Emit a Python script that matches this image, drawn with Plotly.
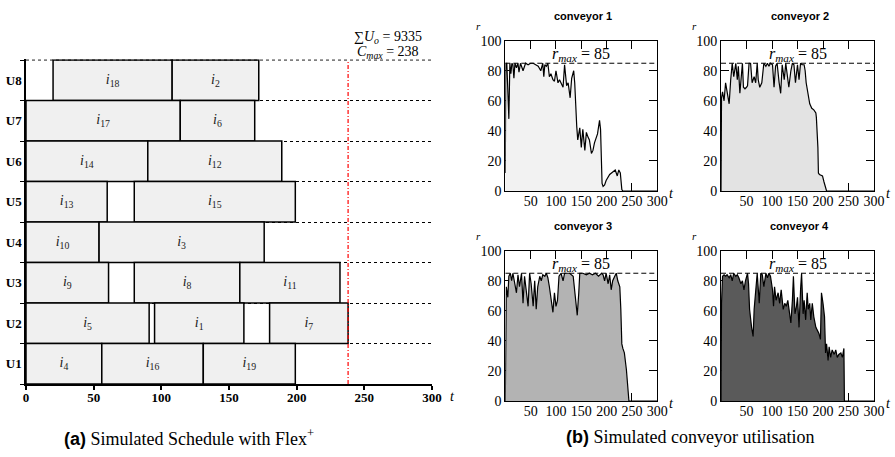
import plotly.graph_objects as go

W, H = 895, 457

# ---------------- data: schedule (a) ----------------
MACHINES = ["U1", "U2", "U3", "U4", "U5", "U6", "U7", "U8"]
JOB_IDS = [18, 2, 17, 6, 14, 12, 13, 15, 10, 3, 9, 8, 11, 5, 1, 7, 4, 16, 19]
JOB_MACH = [8, 8, 7, 7, 6, 6, 5, 5, 4, 4, 3, 3, 3, 2, 2, 2, 1, 1, 1]
JOB_START = [20, 108, 0, 114, 0, 90, 0, 80, 0, 54, 0, 80, 158, 0, 95, 180, 0, 56, 131]
JOB_END = [108, 172, 114, 169, 90, 189, 60, 199, 54, 176, 61, 158, 232, 91, 161, 238, 56, 131, 199]
C_MAX = 238
SUM_U = 9335
GANTT_TICKS = [0, 50, 100, 150, 200, 250, 300]

# ---------------- data: conveyor utilisation (b) ----------------
R_MAX = 85
CONV_NAMES = ["conveyor 1", "conveyor 2", "conveyor 3", "conveyor 4"]
CONV_XTICKS = [50, 100, 150, 200, 250, 300]
CONV_YTICKS = [0, 20, 40, 60, 80, 100]

T1 = [0, 1, 3, 5, 7, 9, 11, 13, 15, 17, 19, 22, 25, 27, 30, 35, 40, 45, 50, 55,
      60, 65, 70, 74, 76, 78, 81, 84, 87, 90, 94, 97, 100, 104, 107, 110, 114, 117, 121, 124,
      128, 131, 135, 137, 139, 141, 143, 147, 150, 153, 157, 160, 163, 166, 170, 173, 176, 182, 186, 188,
      191, 193, 196, 199, 206, 212, 217, 221, 224, 227, 230, 232, 300]
R1 = [12, 85, 85, 60, 48, 85, 78, 85, 84, 75, 85, 82, 85, 79, 85, 80, 85, 84, 85, 85,
      84, 83, 80, 85, 76, 84, 83, 85, 76, 78, 74, 73, 80, 72, 74, 72, 69, 84, 70, 72,
      62, 75, 80, 72, 55, 43, 34, 42, 29, 41, 27, 39, 36, 34, 25, 27, 32, 38, 47, 41,
      5, 3, 4, 7, 11, 13, 14, 10, 14, 12, 1, 0, 0]

T2 = [0, 1, 3, 6, 9, 12, 16, 19, 22, 25, 29, 32, 34, 37, 39, 42, 44, 47, 50, 52,
      55, 58, 61, 65, 68, 71, 73, 76, 80, 84, 88, 91, 94, 97, 101, 104, 107, 110, 114, 117,
      120, 124, 127, 130, 133, 137, 140, 143, 146, 150, 153, 156, 159, 163, 165, 167, 171, 174, 178, 182,
      186, 187, 190, 191, 193, 199, 202, 205, 207, 300]
R2 = [0, 62, 66, 60, 72, 65, 58, 74, 85, 76, 85, 74, 83, 65, 72, 85, 69, 68, 69, 70,
      85, 85, 72, 76, 72, 85, 74, 69, 72, 85, 83, 85, 83, 85, 84, 69, 83, 85, 72, 65,
      84, 74, 85, 76, 69, 80, 85, 84, 72, 84, 74, 85, 84, 84, 80, 72, 63, 58, 55, 54,
      52, 49, 29, 12, 11, 10, 6, 1, 0, 0]

T3 = [0, 1, 2, 5, 7, 10, 12.5, 15, 18, 22, 25, 28, 32, 35, 38, 41, 45, 48, 51, 55,
      58, 61, 64, 68, 71, 74, 78, 81, 84, 87, 91, 94, 97, 100, 103, 106, 110, 114, 117, 120,
      127, 134, 137, 140, 142, 145, 147, 153, 160, 166, 172, 178, 184, 190, 193, 196, 199, 203, 206, 209,
      212, 216, 219, 222, 226, 228, 230, 232, 235, 239, 242, 244, 300]
R3 = [0, 60, 76, 69, 83, 85, 80, 85, 78, 72, 84, 76, 85, 65, 83, 74, 63, 85, 78, 63,
      80, 61, 76, 83, 80, 84, 83, 85, 82, 76, 65, 59, 72, 63, 67, 83, 85, 80, 85, 85,
      85, 83, 72, 61, 57, 72, 85, 85, 84, 85, 84, 85, 83, 85, 84, 80, 85, 78, 84, 74,
      80, 83, 85, 80, 76, 61, 38, 35, 32, 21, 7, 0, 0]

T4 = [0, 1, 3, 6, 9, 12, 16, 19, 22, 25, 29, 32, 35, 39, 42, 45, 48, 52, 54, 56,
      60, 63, 65, 68, 71, 75, 78, 81, 84, 88, 91, 94, 97, 101, 103, 105, 108, 112, 115, 118,
      122, 125, 128, 131, 135, 137, 140, 142, 145, 148, 150, 153, 156, 158, 161, 163, 166, 169, 171, 174,
      176, 179, 182, 186, 189, 192, 195, 197, 200, 203, 205, 207, 210, 212, 215, 218, 222, 225, 228, 231,
      235, 238, 241, 242, 300]
R4 = [0, 65, 83, 84, 83, 84, 82, 84, 80, 85, 83, 84, 82, 78, 80, 74, 80, 85, 78, 61,
      49, 43, 61, 72, 85, 65, 85, 84, 76, 85, 82, 85, 83, 74, 63, 76, 67, 72, 65, 74,
      61, 65, 63, 67, 57, 52, 67, 83, 58, 63, 69, 49, 74, 85, 58, 67, 54, 72, 61, 65,
      54, 65, 56, 49, 47, 45, 41, 72, 65, 56, 32, 38, 27, 36, 29, 34, 31, 34, 29, 31,
      32, 29, 35, 0, 0]

CONV_T = [T1, T2, T3, T4]
CONV_R = [R1, R2, R3, R4]
CONV_FILL = ["#f2f2f2", "#e3e3e3", "#b3b3b3", "#5a5a5a"]

# ---------------- styling / layout helpers ----------------
SERIF = "Liberation Serif"
SANS = "Liberation Sans"


def px_x(px):
    return px / W


def px_y(py):
    return 1 - py / H


def note(xpx, ypx, text, size, family=SERIF, xanchor="center"):
    return dict(x=px_x(xpx), y=px_y(ypx), xref="paper", yref="paper", text=text,
                showarrow=False, xanchor=xanchor, yanchor="middle",
                font=dict(family=family, size=size, color="black"))


fig = go.Figure()

# ---------- (a) Gantt ----------
Y_TOP_PAD = 0.02
G_L, G_R, G_T, G_B = 26, 432, 60 - 40.5 * Y_TOP_PAD, 384
N_ROWS = len(MACHINES)

# top boundary of the last machine row (dashed, like the other row separators)
fig.add_trace(go.Scatter(
    x=[GANTT_TICKS[0], GANTT_TICKS[-1]], y=[N_ROWS, N_ROWS], mode="lines",
    line=dict(color="black", width=1, dash="3px,3px"),
    xaxis="x", yaxis="y", showlegend=False, hoverinfo="skip"))

for jid, m, s, e in zip(JOB_IDS, JOB_MACH, JOB_START, JOB_END):
    fig.add_trace(go.Bar(
        orientation="h", y=[m - 0.5], x=[e - s], base=[s], width=1,
        marker=dict(color="#f0f0f0", line=dict(color="black", width=1.5)),
        xaxis="x", yaxis="y", showlegend=False, hoverinfo="skip"))

fig.add_trace(go.Scatter(
    x=[(s + e) / 2 for s, e in zip(JOB_START, JOB_END)],
    y=[m - 0.5 for m in JOB_MACH],
    text=[f"<i>i</i><sub>{j}</sub>" for j in JOB_IDS],
    mode="text", textfont=dict(family=SERIF, size=14, color="#222"),
    xaxis="x", yaxis="y", showlegend=False, hoverinfo="skip"))

fig.add_trace(go.Scatter(
    x=[C_MAX, C_MAX], y=[0, N_ROWS], mode="lines",
    line=dict(color="red", width=1.2, dash="4px,2px,1px,2px"),
    xaxis="x", yaxis="y", showlegend=False, hoverinfo="skip"))

layout = dict(
    template="none",
    width=W, height=H, margin=dict(l=0, r=0, t=0, b=0, pad=0), autosize=False,
    paper_bgcolor="white", plot_bgcolor="white", showlegend=False, barmode="overlay",
    xaxis=dict(domain=[px_x(G_L), px_x(G_R)], range=[0, 300], tickvals=GANTT_TICKS,
               ticks="outside", ticklen=4, tickwidth=1.5, tickcolor="black",
               showline=True, linecolor="black", linewidth=2, showgrid=False, zeroline=False,
               tickfont=dict(family=SERIF, size=13, color="black", weight="bold"),
               ticklabelstandoff=-4,
               tickangle=0, anchor="y", fixedrange=True, automargin=False),
    yaxis=dict(domain=[px_y(G_B), px_y(G_T)], range=[0, N_ROWS + Y_TOP_PAD],
               tickvals=[i + 0.5 for i in range(N_ROWS)],
               ticktext=[f"<b>{m}</b>" for m in MACHINES], ticks="",
               tickfont=dict(family=SERIF, size=13, color="black"),
               showline=True, linecolor="black", linewidth=1.5, showgrid=False, zeroline=False,
               minor=dict(tickmode="array", tickvals=list(range(N_ROWS + 1)),
                          ticks="outside", ticklen=4, tickcolor="black", tickwidth=1,
                          showgrid=True, gridcolor="black", gridwidth=1, griddash="3px,3px"),
               anchor="x", fixedrange=True, automargin=False),
)

NARROW = "<span style=\"font-family:'Liberation Sans Narrow','Liberation Sans'\"><b>{}</b></span>"
annotations = [
    note(388, 38, f"∑<i>U</i><sub><i>o</i></sub> = {SUM_U}", 14),
    note(388, 52, f"<i>C</i><sub><i>max</i></sub> = {C_MAX}", 14),
    note(453, 396, "<i>t</i>", 14),
    note(62, 437, NARROW.format("(a)") + " Simulated Schedule with Flex<sup>+</sup>", 18, xanchor="left"),
    note(564, 437, NARROW.format("(b)") + " Simulated conveyor utilisation", 18, xanchor="left"),
]

# ---------- (b) conveyors ----------
PANELS = [(505.3, 657.3, 40.7, 191), (721, 874, 40.7, 191),
          (505.3, 657.3, 250.7, 401), (721, 874, 250.7, 401)]

for k, (name, tt, rr, fc, (l, r, t, b)) in enumerate(zip(CONV_NAMES, CONV_T, CONV_R, CONV_FILL, PANELS)):
    n = k + 2
    xa, ya = f"x{n}", f"y{n}"
    fig.add_trace(go.Scatter(
        x=tt, y=rr, mode="lines", fill="tozeroy", fillcolor=fc,
        line=dict(color="black", width=1.2), xaxis=xa, yaxis=ya,
        showlegend=False, hoverinfo="skip"))
    fig.add_trace(go.Scatter(
        x=[0, 300], y=[R_MAX, R_MAX], mode="lines",
        line=dict(color="black", width=1, dash="5px,3px"), xaxis=xa, yaxis=ya,
        showlegend=False, hoverinfo="skip"))
    common = dict(ticks="inside", ticklen=8, tickcolor="black", tickwidth=1,
                  mirror="allticks", showline=True, linecolor="black", linewidth=1,
                  showgrid=False, zeroline=False, layer="below traces",
                  tickfont=dict(family=SERIF, size=14, color="black"), tickangle=0,
                  fixedrange=True, automargin=False)
    layout[f"xaxis{n}"] = dict(domain=[px_x(l), px_x(r)], range=[0, 300], tickvals=CONV_XTICKS,
                               anchor=ya, ticklabelstandoff=-3, **common)
    layout[f"yaxis{n}"] = dict(domain=[px_y(b), px_y(t)], range=[0, 100], tickvals=CONV_YTICKS,
                               anchor=xa, **common)
    annotations += [
        note((l + r) / 2 + 2, t - 25, f"<b>{name}</b>", 11, family=SANS),
        note(l - 27, t - 15, "<i>r</i>", 11),
        note(r + 14, b + 2, "<i>t</i>", 14),
        dict(x=150, y=90.5, xref=xa, yref=ya,
             text=f"<i>r</i><sub><i>max</i></sub> = {R_MAX}", showarrow=False,
             xanchor="center", yanchor="middle",
             font=dict(family=SERIF, size=16, color="black")),
    ]

layout["annotations"] = annotations
fig.update_layout(**layout)
fig.write_html("out.html", config={"displayModeBar": False},
               post_script="document.body.style.margin='0px';document.body.style.padding='0px';")
